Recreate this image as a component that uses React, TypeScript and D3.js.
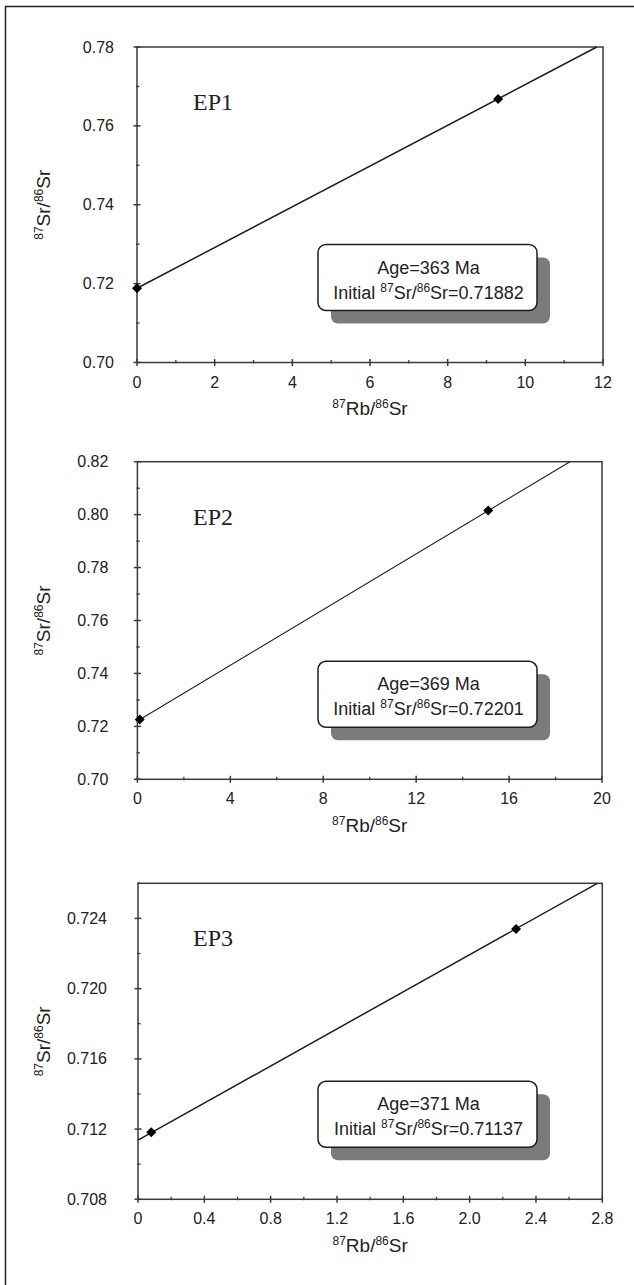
import React, { useEffect, useRef } from "react";
import { select, scaleLinear, line, symbol, symbolSquare } from "d3";

const svgWidth = 634;
const svgHeight = 1285;

// sample names and isochron results
const sampleNames = ["EP1", "EP2", "EP3"];
const ageLabels = ["363", "369", "371"];
const initialLabels = ["0.71882", "0.72201", "0.71137"];

// EP1
const ep1PointX = [0, 9.3];
const ep1PointY = [0.71882, 0.7668];
const ep1LineX = [0, 11.84];
const ep1LineY = [0.71882, 0.78];
const ep1XDomain = [0, 12];
const ep1YDomain = [0.7, 0.78];
const ep1XTicks = [0, 2, 4, 6, 8, 10, 12];
const ep1XLabels = ["0", "2", "4", "6", "8", "10", "12"];
const ep1XMinor = [1, 3, 5, 7, 9, 11];
const ep1YTicks = [0.7, 0.72, 0.74, 0.76, 0.78];
const ep1YLabels = ["0.70", "0.72", "0.74", "0.76", "0.78"];
const ep1YMinor = [0.71, 0.73, 0.75, 0.77];

// EP2
const ep2PointX = [0.1, 15.1];
const ep2PointY = [0.7226, 0.8016];
const ep2LineX = [0, 18.62];
const ep2LineY = [0.72201, 0.82];
const ep2XDomain = [0, 20];
const ep2YDomain = [0.7, 0.82];
const ep2XTicks = [0, 4, 8, 12, 16, 20];
const ep2XLabels = ["0", "4", "8", "12", "16", "20"];
const ep2XMinor = [2, 6, 10, 14, 18];
const ep2YTicks = [0.7, 0.72, 0.74, 0.76, 0.78, 0.8, 0.82];
const ep2YLabels = ["0.70", "0.72", "0.74", "0.76", "0.78", "0.80", "0.82"];
const ep2YMinor = [0.71, 0.73, 0.75, 0.77, 0.79, 0.81];

// EP3
const ep3PointX = [0.08, 2.28];
const ep3PointY = [0.71182, 0.7234];
const ep3LineX = [0, 2.77];
const ep3LineY = [0.71137, 0.726];
const ep3XDomain = [0, 2.8];
const ep3YDomain = [0.708, 0.726];
const ep3XTicks = [0, 0.4, 0.8, 1.2, 1.6, 2.0, 2.4, 2.8];
const ep3XLabels = ["0", "0.4", "0.8", "1.2", "1.6", "2.0", "2.4", "2.8"];
const ep3XMinor = [0.2, 0.6, 1.0, 1.4, 1.8, 2.2, 2.6];
const ep3YTicks = [0.708, 0.712, 0.716, 0.72, 0.724];
const ep3YLabels = ["0.708", "0.712", "0.716", "0.720", "0.724"];
const ep3YMinor = [0.71, 0.714, 0.718, 0.722, 0.726];

const panels = [
  {
    px: ep1PointX, py: ep1PointY, lx: ep1LineX, ly: ep1LineY,
    xd: ep1XDomain, yd: ep1YDomain,
    xt: ep1XTicks, xl: ep1XLabels, xm: ep1XMinor,
    yt: ep1YTicks, yl: ep1YLabels, ym: ep1YMinor,
    left: 137, right: 603, top: 47, bottom: 362.5, labelGap: 23, lineW: 1.5,
  },
  {
    px: ep2PointX, py: ep2PointY, lx: ep2LineX, ly: ep2LineY,
    xd: ep2XDomain, yd: ep2YDomain,
    xt: ep2XTicks, xl: ep2XLabels, xm: ep2XMinor,
    yt: ep2YTicks, yl: ep2YLabels, ym: ep2YMinor,
    left: 137.4, right: 602, top: 461.7, bottom: 779.3, labelGap: 29, lineW: 1.1,
  },
  {
    px: ep3PointX, py: ep3PointY, lx: ep3LineX, ly: ep3LineY,
    xd: ep3XDomain, yd: ep3YDomain,
    xt: ep3XTicks, xl: ep3XLabels, xm: ep3XMinor,
    yt: ep3YTicks, yl: ep3YLabels, ym: ep3YMinor,
    left: 138, right: 602.3, top: 883.3, bottom: 1199.3, labelGap: 31, lineW: 1.5,
  },
];

const sans = "'Liberation Sans', Arial, sans-serif";
const serif = "'Liberation Serif', 'Times New Roman', serif";
const axisColor = "#3a3a3a";
const textColor = "#222";

// text with "87Sr/86Sr" style superscripts
const ratioText = (g: any, prefix: string, num: string, suffix: string, size: number) => {
  const sup = Math.round(size * 0.65);
  const shift = Math.round(size * 0.38);
  if (prefix) g.append("tspan").text(prefix);
  g.append("tspan").attr("font-size", sup).attr("dy", -shift).text("87");
  g.append("tspan").attr("dy", shift).text(num + "/");
  g.append("tspan").attr("font-size", sup).attr("dy", -shift).text("86");
  g.append("tspan").attr("dy", shift).text("Sr" + suffix);
};

export default function App() {
  const ref = useRef<SVGSVGElement>(null);

  useEffect(() => {
    const svg = select(ref.current);
    svg.selectAll("*").remove();

    // outer frame (only top and left edges fall inside the page)
    svg.append("rect")
      .attr("x", 5.5).attr("y", 6.5)
      .attr("width", 700).attr("height", 1400)
      .attr("fill", "none").attr("stroke", "#222").attr("stroke-width", 1.5);

    panels.forEach((p, i) => {
      const xScale = scaleLinear().domain(p.xd).range([p.left, p.right]);
      const yScale = scaleLinear().domain(p.yd).range([p.bottom, p.top]);
      const g = svg.append("g");

      // plot frame
      g.append("rect")
        .attr("x", p.left).attr("y", p.top)
        .attr("width", p.right - p.left).attr("height", p.bottom - p.top)
        .attr("fill", "none").attr("stroke", axisColor).attr("stroke-width", 1.5);

      // x ticks
      p.xt.forEach((v, k) => {
        const x = xScale(v);
        g.append("line").attr("x1", x).attr("x2", x)
          .attr("y1", p.bottom - 3.5).attr("y2", p.bottom + 3.5)
          .attr("stroke", axisColor).attr("stroke-width", 1.5);
        g.append("text")
          .attr("x", x).attr("y", p.bottom + 25)
          .attr("text-anchor", "middle")
          .attr("font-family", sans).attr("font-size", 16).attr("fill", textColor)
          .text(p.xl[k]);
      });
      p.xm.forEach((v) => {
        const x = xScale(v);
        g.append("line").attr("x1", x).attr("x2", x)
          .attr("y1", p.bottom - 2.5).attr("y2", p.bottom + 1)
          .attr("stroke", axisColor).attr("stroke-width", 1.3);
      });

      // y ticks
      p.yt.forEach((v, k) => {
        const y = yScale(v);
        g.append("line").attr("x1", p.left - 3.5).attr("x2", p.left + 3.5)
          .attr("y1", y).attr("y2", y)
          .attr("stroke", axisColor).attr("stroke-width", 1.5);
        g.append("text")
          .attr("x", p.left - p.labelGap).attr("y", y + 5.5)
          .attr("text-anchor", "end")
          .attr("font-family", sans).attr("font-size", 16).attr("fill", textColor)
          .text(p.yl[k]);
      });
      p.ym.forEach((v) => {
        const y = yScale(v);
        g.append("line").attr("x1", p.left - 1).attr("x2", p.left + 2.5)
          .attr("y1", y).attr("y2", y)
          .attr("stroke", axisColor).attr("stroke-width", 1.3);
      });

      // axis titles
      const midY = (p.top + p.bottom) / 2;
      const yTitle = g.append("text")
        .attr("x", 50).attr("y", midY)
        .attr("transform", `rotate(-90, 50, ${midY})`)
        .attr("text-anchor", "middle")
        .attr("font-family", sans).attr("font-size", 19).attr("fill", textColor);
      ratioText(yTitle, "", "Sr", "", 19);

      const xTitle = g.append("text")
        .attr("x", (p.left + p.right) / 2).attr("y", p.bottom + 52.5)
        .attr("text-anchor", "middle")
        .attr("font-family", sans).attr("font-size", 19).attr("fill", textColor);
      ratioText(xTitle, "", "Rb", "", 19);

      // sample label
      g.append("text")
        .attr("x", 193).attr("y", p.top + 63)
        .attr("font-family", serif).attr("font-size", 24).attr("fill", textColor)
        .text(sampleNames[i]);

      // isochron line
      const lineData = p.lx.map((x, k) => [x, p.ly[k]]);
      g.append("path")
        .datum(lineData)
        .attr("d", line().x((d: any) => xScale(d[0])).y((d: any) => yScale(d[1])))
        .attr("fill", "none").attr("stroke", "#1e1e1e").attr("stroke-width", p.lineW);

      // data points
      const diamond = symbol().type(symbolSquare).size(50);
      p.px.forEach((x, k) => {
        g.append("path")
          .attr("d", diamond())
          .attr("transform", `translate(${xScale(x)},${yScale(p.py[k])}) rotate(45)`)
          .attr("fill", "#000");
      });

      // result box with shadow
      const bx = 318, bw = 219, bh = 66;
      const by = p.bottom - 52 - bh;
      g.append("rect")
        .attr("x", bx + 13).attr("y", by + 13).attr("width", bw).attr("height", bh)
        .attr("rx", 7).attr("fill", "#7b7b7b");
      g.append("rect")
        .attr("x", bx).attr("y", by).attr("width", bw).attr("height", bh)
        .attr("rx", 8).attr("fill", "#fff").attr("stroke", "#1e1e1e").attr("stroke-width", 1.5);
      g.append("text")
        .attr("x", bx + bw / 2 + 1).attr("y", by + 29)
        .attr("text-anchor", "middle")
        .attr("font-family", sans).attr("font-size", 18).attr("fill", textColor)
        .text(`Age=${ageLabels[i]} Ma`);
      const t2 = g.append("text")
        .attr("x", bx + bw / 2 + 1).attr("y", by + 54)
        .attr("text-anchor", "middle")
        .attr("font-family", sans).attr("font-size", 18).attr("fill", textColor);
      ratioText(t2, "Initial ", "Sr", "=" + initialLabels[i], 18);
    });
  }, []);

  return (
    <div style={{ position: "absolute", left: 0, top: 0, width: svgWidth, height: svgHeight, background: "#fff" }}>
      <svg ref={ref} width={svgWidth} height={svgHeight}></svg>
    </div>
  );
}
